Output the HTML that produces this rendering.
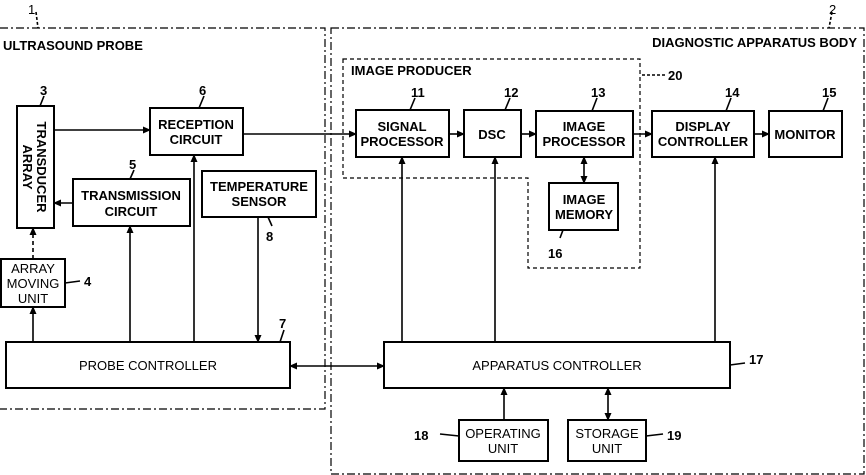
<!DOCTYPE html>
<html><head><meta charset="utf-8"><style>
html,body{margin:0;padding:0;background:#fff;}
svg{display:block;}
text{font-family:"Liberation Sans",sans-serif;font-size:13px;fill:#000;}
.t{font-weight:bold;}
.b{fill:#fff;stroke:#000;stroke-width:2;}
.l{stroke:#000;stroke-width:1.6;fill:none;}
</style></head><body>
<svg width="866" height="475" viewBox="0 0 866 475" xmlns="http://www.w3.org/2000/svg">
<defs>
<marker id="a" markerWidth="8" markerHeight="8" refX="7" refY="4" orient="auto" markerUnits="userSpaceOnUse"><path d="M0,0.5 L8,4 L0,7.5z" fill="#000"/></marker>
<marker id="s" markerWidth="8" markerHeight="8" refX="1" refY="4" orient="auto" markerUnits="userSpaceOnUse"><path d="M8,0.5 L0,4 L8,7.5z" fill="#000"/></marker>
</defs>
<path d="M0,28 H325 V409 H0" fill="none" stroke="#000" stroke-width="1.2" stroke-dasharray="8,3,2,3"/>
<path d="M331,28 H864 V474 H331 Z" fill="none" stroke="#000" stroke-width="1.2" stroke-dasharray="8,3,2,3"/>
<path d="M343,59 H640 V268 H528 V178 H343 Z" fill="none" stroke="#000" stroke-width="1.2" stroke-dasharray="4,3"/>
<path d="M36,12 L38,28" class="l" stroke-width="1" stroke-dasharray="3,2"/>
<path d="M832,12 L829,28" class="l" stroke-width="1" stroke-dasharray="3,2"/>
<path d="M642,75 H665" class="l" stroke-width="1" stroke-dasharray="3,2"/>
<text x="28" y="14">1</text>
<text x="829" y="14">2</text>
<text class="t" x="3" y="50">ULTRASOUND PROBE</text>
<text class="t" x="857" y="47" text-anchor="end">DIAGNOSTIC APPARATUS BODY</text>
<text class="t" x="351" y="75">IMAGE PRODUCER</text>
<text class="t" x="668" y="80">20</text>
<line x1="54" y1="130" x2="150" y2="130" class="l" marker-end="url(#a)"/>
<line x1="243" y1="134" x2="356" y2="134" class="l" marker-end="url(#a)"/>
<line x1="73" y1="203" x2="54" y2="203" class="l" marker-end="url(#a)"/>
<line x1="33" y1="259" x2="33" y2="228" class="l" stroke-dasharray="4,3" marker-end="url(#a)"/>
<line x1="33" y1="342" x2="33" y2="307" class="l" marker-end="url(#a)"/>
<line x1="130" y1="342" x2="130" y2="226" class="l" marker-end="url(#a)"/>
<line x1="194" y1="342" x2="194" y2="155" class="l" marker-end="url(#a)"/>
<line x1="258" y1="217" x2="258" y2="342" class="l" marker-end="url(#a)"/>
<line x1="290" y1="366" x2="384" y2="366" class="l" marker-start="url(#s)" marker-end="url(#a)"/>
<line x1="402" y1="342" x2="402" y2="157" class="l" marker-end="url(#a)"/>
<line x1="495" y1="342" x2="495" y2="157" class="l" marker-end="url(#a)"/>
<line x1="715" y1="342" x2="715" y2="157" class="l" marker-end="url(#a)"/>
<line x1="449" y1="134" x2="464" y2="134" class="l" marker-end="url(#a)"/>
<line x1="521" y1="134" x2="536" y2="134" class="l" marker-end="url(#a)"/>
<line x1="633" y1="134" x2="652" y2="134" class="l" marker-end="url(#a)"/>
<line x1="754" y1="134" x2="769" y2="134" class="l" marker-end="url(#a)"/>
<line x1="584" y1="157" x2="584" y2="183" class="l" marker-start="url(#s)" marker-end="url(#a)"/>
<line x1="504" y1="420" x2="504" y2="388" class="l" marker-end="url(#a)"/>
<line x1="608" y1="420" x2="608" y2="388" class="l" marker-start="url(#s)" marker-end="url(#a)"/>
<rect x="17" y="106" width="37" height="122" class="b"/>
<text class="t" transform="translate(37,167) rotate(90)" text-anchor="middle">TRANSDUCER</text>
<text class="t" transform="translate(23,167) rotate(90)" text-anchor="middle">ARRAY</text>
<rect x="150" y="108" width="93" height="47" class="b"/>
<text class="t" x="196" y="129" text-anchor="middle">RECEPTION</text><text class="t" x="196" y="144" text-anchor="middle">CIRCUIT</text>
<rect x="73" y="179" width="117" height="47" class="b"/>
<text class="t" x="131" y="200" text-anchor="middle">TRANSMISSION</text><text class="t" x="131" y="216" text-anchor="middle">CIRCUIT</text>
<rect x="202" y="171" width="114" height="46" class="b"/>
<text class="t" x="259" y="191" text-anchor="middle">TEMPERATURE</text><text class="t" x="259" y="206" text-anchor="middle">SENSOR</text>
<rect x="1" y="259" width="64" height="48" class="b"/>
<text x="33" y="273" text-anchor="middle" font-size="12">ARRAY</text><text x="33" y="288" text-anchor="middle" font-size="12">MOVING</text><text x="33" y="303" text-anchor="middle" font-size="12">UNIT</text>
<rect x="6" y="342" width="284" height="46" class="b"/>
<text x="148" y="370" text-anchor="middle">PROBE CONTROLLER</text>
<rect x="356" y="110" width="93" height="47" class="b"/>
<text class="t" x="402" y="131" text-anchor="middle">SIGNAL</text><text class="t" x="402" y="146" text-anchor="middle">PROCESSOR</text>
<rect x="464" y="110" width="57" height="47" class="b"/>
<text class="t" x="492" y="139" text-anchor="middle">DSC</text>
<rect x="536" y="111" width="97" height="46" class="b"/>
<text class="t" x="584" y="131" text-anchor="middle">IMAGE</text><text class="t" x="584" y="146" text-anchor="middle">PROCESSOR</text>
<rect x="549" y="183" width="69" height="47" class="b"/>
<text class="t" x="584" y="204" text-anchor="middle">IMAGE</text><text class="t" x="584" y="219" text-anchor="middle">MEMORY</text>
<rect x="652" y="111" width="102" height="46" class="b"/>
<text class="t" x="703" y="131" text-anchor="middle">DISPLAY</text><text class="t" x="703" y="146" text-anchor="middle">CONTROLLER</text>
<rect x="769" y="111" width="73" height="46" class="b"/>
<text class="t" x="805" y="139" text-anchor="middle">MONITOR</text>
<rect x="384" y="342" width="346" height="46" class="b"/>
<text x="557" y="370" text-anchor="middle">APPARATUS CONTROLLER</text>
<rect x="459" y="420" width="89" height="41" class="b"/>
<text x="503" y="438" text-anchor="middle">OPERATING</text><text x="503" y="453" text-anchor="middle">UNIT</text>
<rect x="568" y="420" width="78" height="41" class="b"/>
<text x="607" y="438" text-anchor="middle">STORAGE</text><text x="607" y="453" text-anchor="middle">UNIT</text>
<g class="l" stroke-width="1">
<path d="M44,96 L40,106"/><path d="M204,96 L199,108"/><path d="M134,170 L130,179"/>
<path d="M268,217 L272,226"/><path d="M65,283 L80,281"/><path d="M284,330 L280,342"/>
<path d="M415,98 L410,110"/><path d="M510,98 L505,110"/><path d="M597,98 L592,111"/>
<path d="M731,98 L726,111"/><path d="M828,98 L823,111"/><path d="M563,230 L560,238"/>
<path d="M730,365 L745,363"/><path d="M440,434 L459,436"/><path d="M646,436 L663,434"/>
</g>
<g class="t">
<text x="40" y="95">3</text><text x="199" y="95">6</text><text x="129" y="169">5</text>
<text x="266" y="241">8</text><text x="84" y="286">4</text><text x="279" y="328">7</text>
<text x="411" y="97">11</text><text x="504" y="97">12</text><text x="591" y="97">13</text>
<text x="725" y="97">14</text><text x="822" y="97">15</text><text x="548" y="258">16</text>
<text x="749" y="364">17</text><text x="414" y="440">18</text><text x="667" y="440">19</text>
</g>
</svg>
</body></html>
